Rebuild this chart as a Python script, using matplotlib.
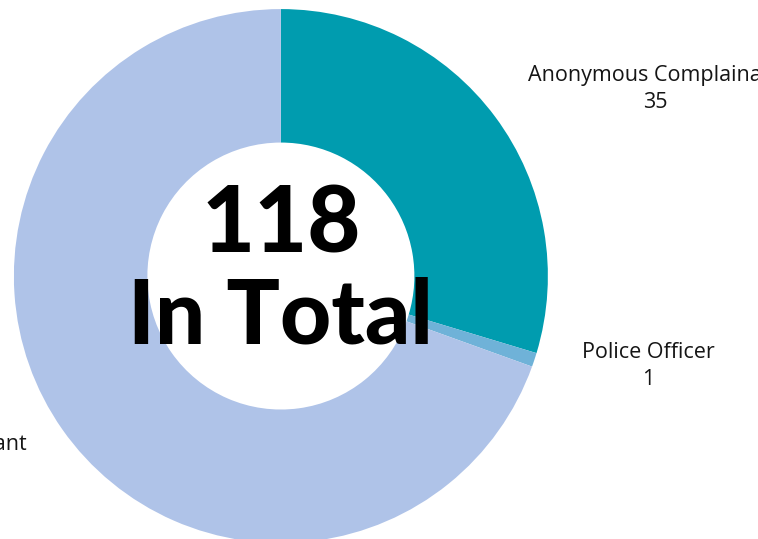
import matplotlib.pyplot as plt

# complaint sources
fuentes = ['Anonymous Complainant', 'Police Officer', 'Complainant']
cantidades = [35, 1, 82]
colores = ['#009CAF', '#6FB2D8', '#AFC3E8']

total = sum(cantidades)

fig = plt.figure(figsize=(7.58, 5.39), dpi=100)
ax = fig.add_axes([0, 0, 1, 1])

ax.pie(cantidades, colors=colores, startangle=90, counterclock=False,
       radius=1, wedgeprops=dict(width=0.5, linewidth=0))

# labels outside the ring
posiciones = [(1.404, 0.700), (1.376, -0.338), (-1.19, -0.68)]
for nombre, valor, (x, y) in zip(fuentes, cantidades, posiciones):
    ax.text(x, y, f'{nombre}\n{valor}', ha='center', va='center',
            fontsize=15.5, family='Open Sans', color='#151515', linespacing=1.35)

# total in the hole
ax.text(0, 0.090, str(total), ha='center', va='baseline',
        fontsize=66, family='Lato', weight='black', color='black')
ax.text(0, -0.251, 'In Total', ha='center', va='baseline',
        fontsize=64, family='Lato', weight='black', color='black')

ax.set_xlim(-1.052, 1.787)
ax.set_ylim(-0.985, 1.034)
ax.set_aspect('auto')
ax.axis('off')

plt.savefig('out.png', dpi=100)
